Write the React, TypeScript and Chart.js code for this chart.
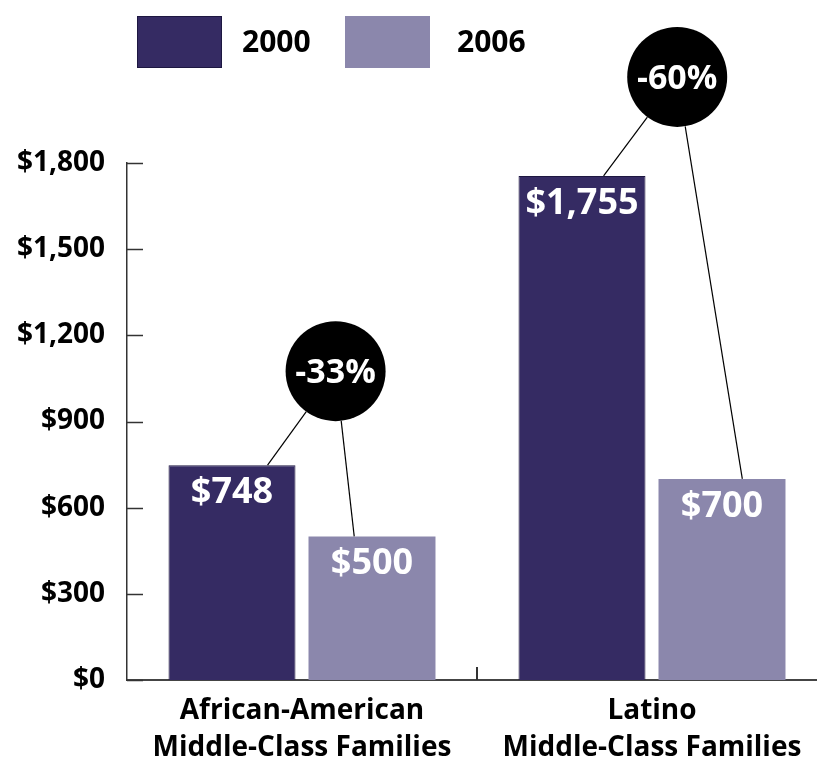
import React, { useEffect, useRef } from "react";
import { Chart, registerables } from "chart.js";

Chart.register(...registerables);

// ---- data ----
const categories: string[][] = [
  ["African-American", "Middle-Class Families"],
  ["Latino", "Middle-Class Families"],
];
const seriesNames = ["2000", "2006"];
const values2000 = [748, 1755];
const values2006 = [500, 700];
const yTicks = [0, 300, 600, 900, 1200, 1500, 1800];

// ---- styles / annotation layout ----
const DARK = "#352b63";
const DARK_EDGE = "#1d1741";
const LIGHT = "#8b87ac";
const FONT = "'Open Sans', 'DejaVu Sans', sans-serif";
const CIRCLE_R = 50;
const CIRCLE_X_FRAC = [0.74, 0.68]; // between the two bar centres
const CIRCLE_RISE = [94, 99]; // px above the 2000 bar top
const LEADER_2000 = [0.78, 0.67]; // fraction along bar top
const LEADER_2006 = [0.36, 0.66];
const LEGEND_BOX_OFFSET = [10, 218];
const LEGEND_TEXT_GAP = [105, 112];

const money = (v: number) => "$" + Number(v).toLocaleString("en-US");

const overlayPlugin = {
  id: "overlay",
  afterDatasetsDraw(chart: any) {
    const ctx = chart.ctx as CanvasRenderingContext2D;
    const m0 = chart.getDatasetMeta(0);
    const m1 = chart.getDatasetMeta(1);

    // value labels inside bars
    [m0, m1].forEach((meta: any, di: number) => {
      meta.data.forEach((bar: any, i: number) => {
        const v = chart.data.datasets[di].data[i] as number;
        ctx.save();
        ctx.fillStyle = "#ffffff";
        ctx.font = `bold 36px ${FONT}`;
        ctx.textAlign = "center";
        ctx.textBaseline = "alphabetic";
        ctx.fillText(money(v), bar.x, bar.y + 38);
        ctx.restore();
      });
    });

    // change bubbles with leader lines
    categories.forEach((_, i) => {
      const b0 = m0.data[i];
      const b1 = m1.data[i];
      const cx = b0.x + CIRCLE_X_FRAC[i] * (b1.x - b0.x);
      const cy = b0.y - CIRCLE_RISE[i];
      const ends = [
        { x: b0.x - b0.width / 2 + LEADER_2000[i] * b0.width, y: b0.y },
        { x: b1.x - b1.width / 2 + LEADER_2006[i] * b1.width, y: b1.y },
      ];
      ctx.save();
      ctx.strokeStyle = "#000";
      ctx.lineWidth = 1.2;
      ends.forEach((e) => {
        const dx = e.x - cx;
        const dy = e.y - cy;
        const d = Math.hypot(dx, dy);
        ctx.beginPath();
        ctx.moveTo(cx + (dx / d) * CIRCLE_R, cy + (dy / d) * CIRCLE_R);
        ctx.lineTo(e.x, e.y);
        ctx.stroke();
      });
      ctx.beginPath();
      ctx.arc(cx, cy, CIRCLE_R, 0, Math.PI * 2);
      ctx.fillStyle = "#000";
      ctx.fill();
      const pct = Math.round(((values2006[i] - values2000[i]) / values2000[i]) * 100);
      ctx.fillStyle = "#fff";
      ctx.font = `bold 34px ${FONT}`;
      ctx.textAlign = "center";
      ctx.textBaseline = "alphabetic";
      ctx.fillText(`${pct}%`, cx, cy + 12);
      ctx.restore();
    });
  },
  afterDraw(chart: any) {
    const ctx = chart.ctx as CanvasRenderingContext2D;
    const y = chart.scales.y;
    const x = chart.scales.x;
    const area = chart.chartArea;
    ctx.save();
    // inward y ticks
    ctx.strokeStyle = "#333";
    ctx.lineWidth = 1.5;
    yTicks.forEach((v) => {
      const py = Math.round(y.getPixelForValue(v)) + 0.5;
      ctx.beginPath();
      ctx.moveTo(area.left, py);
      ctx.lineTo(area.left + 16, py);
      ctx.stroke();
    });
    // inward x tick between categories
    const mid = (x.getPixelForValue(0) + x.getPixelForValue(1)) / 2;
    ctx.lineWidth = 2;
    ctx.beginPath();
    ctx.moveTo(mid, area.bottom);
    ctx.lineTo(mid, area.bottom - 13);
    ctx.stroke();

    // legend
    const ds = chart.data.datasets;
    ds.forEach((d: any, i: number) => {
      const bx = area.left + LEGEND_BOX_OFFSET[i];
      ctx.fillStyle = d.backgroundColor;
      ctx.fillRect(bx, 16, 85, 52);
      if (i === 0) {
        ctx.strokeStyle = DARK_EDGE;
        ctx.lineWidth = 1;
        ctx.strokeRect(bx + 0.5, 16.5, 84, 51);
      }
      ctx.fillStyle = "#000";
      ctx.font = `bold 30px ${FONT}`;
      ctx.textAlign = "left";
      ctx.textBaseline = "alphabetic";
      ctx.fillText(d.label, bx + LEGEND_TEXT_GAP[i], 52);
    });
    ctx.restore();
  },
};

export default function App() {
  const ref = useRef<HTMLCanvasElement | null>(null);

  useEffect(() => {
    if (!ref.current) return;
    const chart = new Chart(ref.current, {
      type: "bar",
      data: {
        labels: categories,
        datasets: [
          {
            label: seriesNames[0],
            data: values2000,
            backgroundColor: DARK,
            borderColor: DARK_EDGE,
            borderWidth: 1,
            barPercentage: 0.907,
            categoryPercentage: 0.8,
          },
          {
            label: seriesNames[1],
            data: values2006,
            backgroundColor: LIGHT,
            borderWidth: 0,
            barPercentage: 0.907,
            categoryPercentage: 0.8,
          },
        ],
      },
      options: {
        responsive: false,
        animation: false,
        events: [],
        layout: { padding: { top: 163, right: 0, left: 0, bottom: 0 } },
        plugins: {
          legend: { display: false },
          tooltip: { enabled: false },
        },
        scales: {
          x: {
            z: 1,
            grid: { display: false, drawTicks: false },
            border: { display: true, color: "#444", width: 2 },
            afterFit: (s: any) => {
              s.height = 84;
            },
            ticks: {
              color: "#000",
              padding: 13,
              maxRotation: 0,
              autoSkip: false,
              font: { family: FONT, size: 28, weight: "bold", lineHeight: 1.32 },
            },
          },
          y: {
            min: 0,
            max: 1800,
            afterBuildTicks: (s: any) => {
              s.ticks = yTicks.map((v) => ({ value: v }));
            },
            afterFit: (s: any) => {
              s.width = 127;
            },
            grid: { display: false, drawTicks: false },
            border: { display: true, color: "#333", width: 1.5 },
            ticks: {
              color: "#000",
              padding: 22,
              font: { family: FONT, size: 28, weight: "bold" },
              callback: (v: any) => money(Number(v)),
            },
          },
        },
      },
      plugins: [overlayPlugin],
    } as any);
    return () => chart.destroy();
  }, []);

  return (
    <div
      style={{
        position: "fixed",
        left: 0,
        top: 0,
        width: 817,
        height: 764,
        overflow: "hidden",
        background: "#fff",
      }}
    >
      <canvas ref={ref} width={827} height={764} style={{ width: 827, height: 764, display: "block" }} />
    </div>
  );
}
